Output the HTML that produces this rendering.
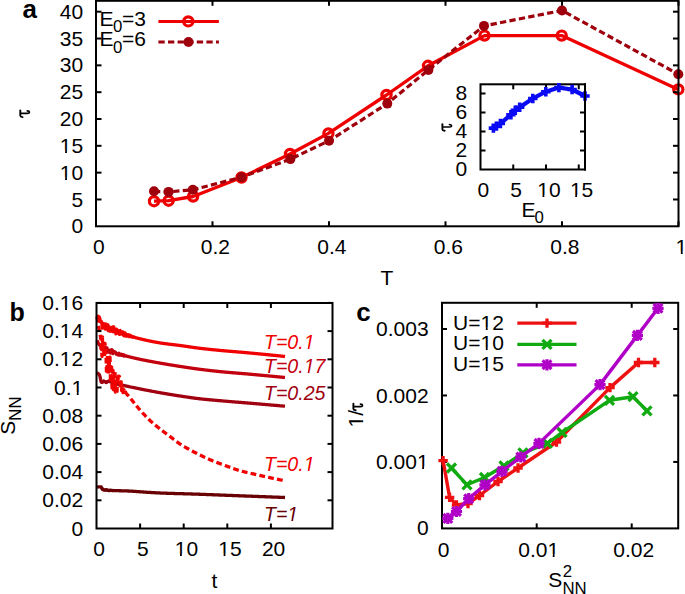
<!DOCTYPE html>
<html><head><meta charset="utf-8"><style>
html,body{margin:0;padding:0;background:#fff;}
svg{display:block;}
text{font-family:"Liberation Sans", sans-serif;}
</style></head><body>
<svg width="685" height="594" viewBox="0 0 685 594">
<rect width="685" height="594" fill="#fff"/>
<polyline points="154.00,201.20 168.60,200.70 193.10,196.50 241.50,177.50 290.00,154.00 328.40,133.40 386.50,95.00 428.00,65.80 484.50,35.60 561.70,35.60 678.30,89.40" fill="none" stroke="#ee0000" stroke-width="3.3" stroke-linejoin="round" />
<circle cx="154" cy="201.2" r="4.6" fill="none" stroke="#ee0000" stroke-width="3.2"/>
<circle cx="168.6" cy="200.7" r="4.6" fill="none" stroke="#ee0000" stroke-width="3.2"/>
<circle cx="193.1" cy="196.5" r="4.6" fill="none" stroke="#ee0000" stroke-width="3.2"/>
<circle cx="241.5" cy="177.5" r="4.6" fill="none" stroke="#ee0000" stroke-width="3.2"/>
<circle cx="290" cy="154" r="4.6" fill="none" stroke="#ee0000" stroke-width="3.2"/>
<circle cx="328.4" cy="133.4" r="4.6" fill="none" stroke="#ee0000" stroke-width="3.2"/>
<circle cx="386.5" cy="95" r="4.6" fill="none" stroke="#ee0000" stroke-width="3.2"/>
<circle cx="428" cy="65.8" r="4.6" fill="none" stroke="#ee0000" stroke-width="3.2"/>
<circle cx="484.5" cy="35.6" r="4.6" fill="none" stroke="#ee0000" stroke-width="3.2"/>
<circle cx="561.7" cy="35.6" r="4.6" fill="none" stroke="#ee0000" stroke-width="3.2"/>
<circle cx="678.3" cy="89.4" r="4.6" fill="none" stroke="#ee0000" stroke-width="3.2"/>
<polyline points="154.00,191.30 168.60,191.90 192.80,189.80 241.50,177.20 290.40,159.10 329.00,140.80 387.30,103.60 428.40,69.90 484.00,25.90 562.00,10.50 678.30,74.20" fill="none" stroke="#9e000c" stroke-width="3.2" stroke-linejoin="round" stroke-dasharray="6.3 3.3"/>
<circle cx="154" cy="191.3" r="5" fill="#9e000c"/>
<circle cx="168.6" cy="191.9" r="5" fill="#9e000c"/>
<circle cx="192.8" cy="189.8" r="5" fill="#9e000c"/>
<circle cx="241.5" cy="177.2" r="5" fill="#9e000c"/>
<circle cx="290.4" cy="159.1" r="5" fill="#9e000c"/>
<circle cx="329" cy="140.8" r="5" fill="#9e000c"/>
<circle cx="387.3" cy="103.6" r="5" fill="#9e000c"/>
<circle cx="428.4" cy="69.9" r="5" fill="#9e000c"/>
<circle cx="484" cy="25.9" r="5" fill="#9e000c"/>
<circle cx="562" cy="10.5" r="5" fill="#9e000c"/>
<circle cx="678.3" cy="74.2" r="5" fill="#9e000c"/>
<text x="99.4" y="25.6" font-size="21" text-anchor="start" fill="#000" >E</text>
<text x="113.0" y="32.1" font-size="16.8" text-anchor="start" fill="#000" >0</text>
<text x="122.0" y="25.6" font-size="21" text-anchor="start" fill="#000" >=3</text>
<text x="99.4" y="46.3" font-size="21" text-anchor="start" fill="#000" >E</text>
<text x="113.0" y="52.8" font-size="16.8" text-anchor="start" fill="#000" >0</text>
<text x="122.0" y="46.3" font-size="21" text-anchor="start" fill="#000" >=6</text>
<line x1="158.40" y1="21.40" x2="218.90" y2="21.40" stroke="#ee0000" stroke-width="3" />
<circle cx="188.3" cy="21.4" r="4.6" fill="none" stroke="#ee0000" stroke-width="3.2"/>
<line x1="158.40" y1="42.00" x2="218.90" y2="42.00" stroke="#9e000c" stroke-width="3" stroke-dasharray="6.3 3.3"/>
<circle cx="188.5" cy="42" r="5" fill="#9e000c"/>
<rect x="96.0" y="0.8" width="582.5" height="225.5" fill="none" stroke="#000" stroke-width="2.0"/>
<text x="83.2" y="233.3" font-size="21" text-anchor="end" fill="#000" >0</text>
<line x1="96.00" y1="199.48" x2="101.50" y2="199.48" stroke="#000" stroke-width="2" />
<line x1="678.50" y1="199.48" x2="673.00" y2="199.48" stroke="#000" stroke-width="2" />
<text x="83.2" y="206.5" font-size="21" text-anchor="end" fill="#000" >5</text>
<line x1="96.00" y1="172.65" x2="101.50" y2="172.65" stroke="#000" stroke-width="2" />
<line x1="678.50" y1="172.65" x2="673.00" y2="172.65" stroke="#000" stroke-width="2" />
<text id="o0" x="83.2" y="179.7" font-size="21" text-anchor="end" fill="#000" >10</text>
<g fill="#fff"><path d="M-40,-130L515,-130L515,230L-40,230ZM696,-130L1125,-130L1125,230L696,230Z" transform="translate(59.84,179.70) scale(0.010254,-0.010254)"/></g>
<line x1="96.00" y1="145.82" x2="101.50" y2="145.82" stroke="#000" stroke-width="2" />
<line x1="678.50" y1="145.82" x2="673.00" y2="145.82" stroke="#000" stroke-width="2" />
<text id="o1" x="83.2" y="152.8" font-size="21" text-anchor="end" fill="#000" >15</text>
<g fill="#fff"><path d="M-40,-130L515,-130L515,230L-40,230ZM696,-130L1125,-130L1125,230L696,230Z" transform="translate(59.84,152.80) scale(0.010254,-0.010254)"/></g>
<line x1="96.00" y1="119.00" x2="101.50" y2="119.00" stroke="#000" stroke-width="2" />
<line x1="678.50" y1="119.00" x2="673.00" y2="119.00" stroke="#000" stroke-width="2" />
<text x="83.2" y="126.0" font-size="21" text-anchor="end" fill="#000" >20</text>
<line x1="96.00" y1="92.18" x2="101.50" y2="92.18" stroke="#000" stroke-width="2" />
<line x1="678.50" y1="92.18" x2="673.00" y2="92.18" stroke="#000" stroke-width="2" />
<text x="83.2" y="99.2" font-size="21" text-anchor="end" fill="#000" >25</text>
<line x1="96.00" y1="65.35" x2="101.50" y2="65.35" stroke="#000" stroke-width="2" />
<line x1="678.50" y1="65.35" x2="673.00" y2="65.35" stroke="#000" stroke-width="2" />
<text x="83.2" y="72.3" font-size="21" text-anchor="end" fill="#000" >30</text>
<line x1="96.00" y1="38.53" x2="101.50" y2="38.53" stroke="#000" stroke-width="2" />
<line x1="678.50" y1="38.53" x2="673.00" y2="38.53" stroke="#000" stroke-width="2" />
<text x="83.2" y="45.5" font-size="21" text-anchor="end" fill="#000" >35</text>
<line x1="96.00" y1="11.70" x2="101.50" y2="11.70" stroke="#000" stroke-width="2" />
<line x1="678.50" y1="11.70" x2="673.00" y2="11.70" stroke="#000" stroke-width="2" />
<text x="83.2" y="18.7" font-size="21" text-anchor="end" fill="#000" >40</text>
<text x="98.9" y="253.8" font-size="21" text-anchor="middle" fill="#000" >0</text>
<line x1="212.50" y1="226.30" x2="212.50" y2="221.30" stroke="#000" stroke-width="2" />
<line x1="212.50" y1="0.80" x2="212.50" y2="5.80" stroke="#000" stroke-width="2" />
<text x="215.4" y="253.8" font-size="21" text-anchor="middle" fill="#000" >0.2</text>
<line x1="329.00" y1="226.30" x2="329.00" y2="221.30" stroke="#000" stroke-width="2" />
<line x1="329.00" y1="0.80" x2="329.00" y2="5.80" stroke="#000" stroke-width="2" />
<text x="331.9" y="253.8" font-size="21" text-anchor="middle" fill="#000" >0.4</text>
<line x1="445.50" y1="226.30" x2="445.50" y2="221.30" stroke="#000" stroke-width="2" />
<line x1="445.50" y1="0.80" x2="445.50" y2="5.80" stroke="#000" stroke-width="2" />
<text x="448.4" y="253.8" font-size="21" text-anchor="middle" fill="#000" >0.6</text>
<line x1="562.00" y1="226.30" x2="562.00" y2="221.30" stroke="#000" stroke-width="2" />
<line x1="562.00" y1="0.80" x2="562.00" y2="5.80" stroke="#000" stroke-width="2" />
<text x="564.9" y="253.8" font-size="21" text-anchor="middle" fill="#000" >0.8</text>
<line x1="678.50" y1="226.30" x2="678.50" y2="221.30" stroke="#000" stroke-width="2" />
<line x1="678.50" y1="0.80" x2="678.50" y2="5.80" stroke="#000" stroke-width="2" />
<text id="o2" x="681.4" y="253.8" font-size="21" text-anchor="middle" fill="#000" >1</text>
<g fill="#fff"><path d="M-40,-130L515,-130L515,230L-40,230ZM696,-130L1125,-130L1125,230L696,230Z" transform="translate(675.56,253.80) scale(0.010254,-0.010254)"/></g>
<text x="387.0" y="285.4" font-size="21" text-anchor="middle" fill="#000" >T</text>
<g transform="translate(20.3,113.4) scale(1.0)" fill="none" stroke="#000" stroke-linecap="round"><path d="M0,-2.9 L0,2.3 Q0.2,3.5 2.2,3.7" stroke-width="1.9"/><path d="M0.5,0 L7.2,0 Q9.2,0 9.1,-1.3 Q9.0,-2.5 7.0,-2.5" stroke-width="1.65"/></g>
<text x="22.6" y="18.3" font-size="26" text-anchor="start" fill="#000" font-weight="bold">a</text>
<rect x="480.5" y="84.3" width="104.5" height="85.2" fill="#fff" stroke="#000" stroke-width="2.0"/>
<text x="467.2" y="175.8" font-size="21" text-anchor="end" fill="#000" >0</text>
<line x1="480.50" y1="150.50" x2="485.50" y2="150.50" stroke="#000" stroke-width="2" />
<line x1="585.00" y1="150.50" x2="580.00" y2="150.50" stroke="#000" stroke-width="2" />
<text x="467.2" y="156.8" font-size="21" text-anchor="end" fill="#000" >2</text>
<line x1="480.50" y1="131.50" x2="485.50" y2="131.50" stroke="#000" stroke-width="2" />
<line x1="585.00" y1="131.50" x2="580.00" y2="131.50" stroke="#000" stroke-width="2" />
<text x="467.2" y="137.8" font-size="21" text-anchor="end" fill="#000" >4</text>
<line x1="480.50" y1="112.50" x2="485.50" y2="112.50" stroke="#000" stroke-width="2" />
<line x1="585.00" y1="112.50" x2="580.00" y2="112.50" stroke="#000" stroke-width="2" />
<text x="467.2" y="118.8" font-size="21" text-anchor="end" fill="#000" >6</text>
<line x1="480.50" y1="93.50" x2="485.50" y2="93.50" stroke="#000" stroke-width="2" />
<line x1="585.00" y1="93.50" x2="580.00" y2="93.50" stroke="#000" stroke-width="2" />
<text x="467.2" y="99.8" font-size="21" text-anchor="end" fill="#000" >8</text>
<text x="483.4" y="197.4" font-size="21" text-anchor="middle" fill="#000" >0</text>
<line x1="513.25" y1="169.50" x2="513.25" y2="164.50" stroke="#000" stroke-width="2" />
<line x1="513.25" y1="84.30" x2="513.25" y2="89.30" stroke="#000" stroke-width="2" />
<text x="516.1" y="197.4" font-size="21" text-anchor="middle" fill="#000" >5</text>
<line x1="546.00" y1="169.50" x2="546.00" y2="164.50" stroke="#000" stroke-width="2" />
<line x1="546.00" y1="84.30" x2="546.00" y2="89.30" stroke="#000" stroke-width="2" />
<text id="o3" x="548.9" y="197.4" font-size="21" text-anchor="middle" fill="#000" >10</text>
<g fill="#fff"><path d="M-40,-130L515,-130L515,230L-40,230ZM696,-130L1125,-130L1125,230L696,230Z" transform="translate(537.22,197.40) scale(0.010254,-0.010254)"/></g>
<line x1="578.75" y1="169.50" x2="578.75" y2="164.50" stroke="#000" stroke-width="2" />
<line x1="578.75" y1="84.30" x2="578.75" y2="89.30" stroke="#000" stroke-width="2" />
<text id="o4" x="581.6" y="197.4" font-size="21" text-anchor="middle" fill="#000" >15</text>
<g fill="#fff"><path d="M-40,-130L515,-130L515,230L-40,230ZM696,-130L1125,-130L1125,230L696,230Z" transform="translate(569.92,197.40) scale(0.010254,-0.010254)"/></g>
<polyline points="493.40,128.10 496.40,126.10 500.40,123.50 510.90,114.70 515.30,110.30 519.70,107.30 532.80,98.50 545.80,91.70 558.90,87.60 572.10,89.50 585.00,96.00" fill="none" stroke="#0a0af5" stroke-width="4.2" stroke-linejoin="round" />
<path d="M488.7,128.1h9.4M493.4,123.39999999999999v9.4" stroke="#0a0af5" stroke-width="3.6"/>
<path d="M491.7,126.1h9.4M496.4,121.39999999999999v9.4" stroke="#0a0af5" stroke-width="3.6"/>
<path d="M495.7,123.5h9.4M500.4,118.8v9.4" stroke="#0a0af5" stroke-width="3.6"/>
<path d="M506.2,114.7h9.4M510.9,110.0v9.4" stroke="#0a0af5" stroke-width="3.6"/>
<path d="M510.59999999999997,110.3h9.4M515.3,105.6v9.4" stroke="#0a0af5" stroke-width="3.6"/>
<path d="M515.0,107.3h9.4M519.7,102.6v9.4" stroke="#0a0af5" stroke-width="3.6"/>
<path d="M528.0999999999999,98.5h9.4M532.8,93.8v9.4" stroke="#0a0af5" stroke-width="3.6"/>
<path d="M541.0999999999999,91.7h9.4M545.8,87.0v9.4" stroke="#0a0af5" stroke-width="3.6"/>
<path d="M554.1999999999999,87.6h9.4M558.9,82.89999999999999v9.4" stroke="#0a0af5" stroke-width="3.6"/>
<path d="M567.4,89.5h9.4M572.1,84.8v9.4" stroke="#0a0af5" stroke-width="3.6"/>
<path d="M580.3,96h9.4M585,91.3v9.4" stroke="#0a0af5" stroke-width="3.6"/>
<line x1="585.00" y1="83.30" x2="585.00" y2="170.50" stroke="#000" stroke-width="2.0" />
<text x="521.4" y="216.9" font-size="21" text-anchor="start" fill="#000" >E</text>
<text x="534.6" y="222.8" font-size="16.8" text-anchor="start" fill="#000" >0</text>
<g transform="translate(442.4,127.0) scale(1.0)" fill="none" stroke="#000" stroke-linecap="round"><path d="M0,-2.9 L0,2.3 Q0.2,3.5 2.2,3.7" stroke-width="1.9"/><path d="M0.5,0 L7.2,0 Q9.2,0 9.1,-1.3 Q9.0,-2.5 7.0,-2.5" stroke-width="1.65"/></g>
<polyline points="97.00,487.30 97.70,487.08 98.40,486.94 99.10,486.85 99.80,486.81 100.50,486.80 101.20,486.93 101.90,488.58 102.60,489.61 103.30,489.24 104.00,490.14 104.70,489.83 105.40,490.22 106.10,489.60 106.80,490.07 107.50,490.35 108.20,490.06 108.90,490.57 109.60,490.56 110.30,490.17 111.00,490.24 111.70,490.49 112.40,490.62 113.10,490.52 113.80,490.54 114.50,490.59 115.20,490.62 115.90,490.65 116.60,490.67 117.30,490.69 118.00,490.70 118.70,490.72 119.40,490.74 120.10,490.76 120.80,490.77 121.50,490.79 122.20,490.81 122.90,490.82 123.60,490.84 124.30,490.86 125.00,490.88 125.70,490.91 126.40,490.93 127.10,490.96 127.80,490.99 128.50,491.02 129.20,491.06 129.90,491.09 130.60,491.14 131.30,491.18 132.00,491.22 132.70,491.26 133.40,491.31 134.10,491.36 134.80,491.40 135.50,491.45 136.20,491.50 136.90,491.54 137.60,491.59 138.30,491.64 139.00,491.69 139.70,491.74 140.40,491.79 141.10,491.84 141.80,491.89 142.50,491.93 143.20,491.98 143.90,492.03 144.60,492.08 145.30,492.13 146.00,492.18 146.70,492.23 147.40,492.28 148.10,492.32 148.80,492.37 149.50,492.42 150.20,492.46 150.90,492.51 151.60,492.55 152.30,492.59 153.00,492.64 153.70,492.68 154.40,492.72 155.10,492.76 155.80,492.80 156.50,492.83 157.20,492.87 157.90,492.90 158.60,492.94 159.30,492.97 160.00,493.00 160.70,493.03 161.40,493.06 162.10,493.09 162.80,493.11 163.50,493.14 164.20,493.17 164.90,493.19 165.60,493.22 166.30,493.24 167.00,493.27 167.70,493.29 168.40,493.31 169.10,493.34 169.80,493.36 170.50,493.38 171.20,493.40 171.90,493.42 172.60,493.44 173.30,493.47 174.00,493.49 174.70,493.51 175.40,493.53 176.10,493.55 176.80,493.57 177.50,493.59 178.20,493.61 178.90,493.62 179.60,493.64 180.30,493.66 181.00,493.68 181.70,493.70 182.40,493.72 183.10,493.74 183.80,493.76 184.50,493.78 185.20,493.80 185.90,493.82 186.60,493.84 187.30,493.86 188.00,493.88 188.70,493.90 189.40,493.92 190.10,493.94 190.80,493.96 191.50,493.99 192.20,494.01 192.90,494.03 193.60,494.05 194.30,494.08 195.00,494.10 195.70,494.12 196.40,494.15 197.10,494.17 197.80,494.20 198.50,494.22 199.20,494.25 199.90,494.27 200.60,494.30 201.30,494.32 202.00,494.35 202.70,494.37 203.40,494.40 204.10,494.42 204.80,494.45 205.50,494.47 206.20,494.50 206.90,494.53 207.60,494.55 208.30,494.58 209.00,494.60 209.70,494.63 210.40,494.66 211.10,494.68 211.80,494.71 212.50,494.74 213.20,494.76 213.90,494.79 214.60,494.82 215.30,494.84 216.00,494.87 216.70,494.90 217.40,494.93 218.10,494.95 218.80,494.98 219.50,495.01 220.20,495.03 220.90,495.06 221.60,495.09 222.30,495.12 223.00,495.14 223.70,495.17 224.40,495.20 225.10,495.23 225.80,495.25 226.50,495.28 227.20,495.31 227.90,495.33 228.60,495.36 229.30,495.39 230.00,495.42 230.70,495.44 231.40,495.47 232.10,495.50 232.80,495.52 233.50,495.55 234.20,495.58 234.90,495.61 235.60,495.63 236.30,495.66 237.00,495.69 237.70,495.71 238.40,495.74 239.10,495.77 239.80,495.79 240.50,495.82 241.20,495.85 241.90,495.87 242.60,495.90 243.30,495.92 244.00,495.95 244.70,495.98 245.40,496.00 246.10,496.03 246.80,496.06 247.50,496.08 248.20,496.11 248.90,496.14 249.60,496.16 250.30,496.19 251.00,496.22 251.70,496.24 252.40,496.27 253.10,496.29 253.80,496.32 254.50,496.35 255.20,496.37 255.90,496.40 256.60,496.43 257.30,496.45 258.00,496.48 258.70,496.51 259.40,496.53 260.10,496.56 260.80,496.59 261.50,496.61 262.20,496.64 262.90,496.67 263.60,496.69 264.30,496.72 265.00,496.74 265.70,496.77 266.40,496.80 267.10,496.82 267.80,496.85 268.50,496.88 269.20,496.90 269.90,496.93 270.60,496.96 271.30,496.98 272.00,497.01 272.70,497.04 273.40,497.06 274.10,497.09 274.80,497.11 275.50,497.14 276.20,497.17 276.90,497.19 277.60,497.22 278.30,497.25 279.00,497.27 279.70,497.30 280.40,497.33 281.10,497.35 281.80,497.38 282.50,497.41 283.20,497.43 283.90,497.46 284.60,497.48 285.00,497.50" fill="none" stroke="#680004" stroke-width="3.3" stroke-linejoin="round" />
<polyline points="97.00,373.00 97.60,373.14 98.20,373.54 98.80,374.13 99.40,374.87 100.00,376.55 100.60,379.61 101.20,382.10 101.80,382.46 102.40,382.20 103.00,381.85 103.60,380.89 104.20,381.36 104.80,381.29 105.40,381.97 106.00,382.53 106.60,382.47 107.20,381.69 107.80,381.53 108.40,381.21 109.00,380.79 109.60,380.82 110.20,381.75 110.80,381.55 111.40,381.77 112.00,382.79 112.60,382.30 113.20,382.52 113.80,382.21 114.40,382.12 115.00,382.76 115.60,382.74 116.20,383.42 116.80,384.16 117.40,384.00 118.00,383.72 118.60,384.54 119.20,384.62 119.80,384.71 120.40,384.95 121.00,384.98 121.60,385.12 122.20,385.08 122.80,385.41 123.40,385.51 124.00,385.50 124.60,385.70 125.20,385.82 125.80,385.96 126.40,386.09 127.00,386.22 127.60,386.35 128.20,386.48 128.80,386.61 129.40,386.74 130.00,386.86 130.60,386.99 131.20,387.11 131.80,387.24 132.40,387.36 133.00,387.48 133.60,387.61 134.20,387.73 134.80,387.85 135.40,387.97 136.00,388.09 136.60,388.22 137.20,388.34 137.80,388.46 138.40,388.58 139.00,388.70 139.60,388.82 140.20,388.94 140.80,389.06 141.40,389.18 142.00,389.30 142.60,389.42 143.20,389.54 143.80,389.66 144.40,389.78 145.00,389.90 145.60,390.01 146.20,390.13 146.80,390.25 147.40,390.36 148.00,390.48 148.60,390.59 149.20,390.71 149.80,390.82 150.40,390.94 151.00,391.05 151.60,391.17 152.20,391.28 152.80,391.39 153.40,391.50 154.00,391.61 154.60,391.72 155.20,391.84 155.80,391.95 156.40,392.05 157.00,392.16 157.60,392.27 158.20,392.38 158.80,392.49 159.40,392.59 160.00,392.70 160.60,392.81 161.20,392.91 161.80,393.02 162.40,393.12 163.00,393.23 163.60,393.33 164.20,393.43 164.80,393.54 165.40,393.64 166.00,393.74 166.60,393.84 167.20,393.94 167.80,394.05 168.40,394.15 169.00,394.25 169.60,394.35 170.20,394.45 170.80,394.54 171.40,394.64 172.00,394.74 172.60,394.84 173.20,394.94 173.80,395.03 174.40,395.13 175.00,395.22 175.60,395.32 176.20,395.41 176.80,395.51 177.40,395.60 178.00,395.69 178.60,395.79 179.20,395.88 179.80,395.97 180.40,396.06 181.00,396.15 181.60,396.24 182.20,396.33 182.80,396.42 183.40,396.52 184.00,396.61 184.60,396.70 185.20,396.79 185.80,396.88 186.40,396.97 187.00,397.06 187.60,397.15 188.20,397.23 188.80,397.32 189.40,397.41 190.00,397.50 190.60,397.58 191.20,397.67 191.80,397.75 192.40,397.83 193.00,397.92 193.60,398.00 194.20,398.08 194.80,398.16 195.40,398.24 196.00,398.32 196.60,398.39 197.20,398.47 197.80,398.54 198.40,398.61 199.00,398.68 199.60,398.75 200.20,398.82 200.80,398.89 201.40,398.96 202.00,399.02 202.60,399.08 203.20,399.15 203.80,399.21 204.40,399.27 205.00,399.33 205.60,399.39 206.20,399.45 206.80,399.51 207.40,399.57 208.00,399.62 208.60,399.68 209.20,399.74 209.80,399.79 210.40,399.85 211.00,399.90 211.60,399.96 212.20,400.01 212.80,400.06 213.40,400.12 214.00,400.17 214.60,400.22 215.20,400.28 215.80,400.33 216.40,400.38 217.00,400.43 217.60,400.49 218.20,400.54 218.80,400.59 219.40,400.65 220.00,400.70 220.60,400.75 221.20,400.81 221.80,400.86 222.40,400.91 223.00,400.96 223.60,401.02 224.20,401.07 224.80,401.12 225.40,401.17 226.00,401.22 226.60,401.27 227.20,401.32 227.80,401.37 228.40,401.42 229.00,401.47 229.60,401.52 230.20,401.57 230.80,401.62 231.40,401.67 232.00,401.72 232.60,401.77 233.20,401.82 233.80,401.87 234.40,401.92 235.00,401.97 235.60,402.02 236.20,402.07 236.80,402.11 237.40,402.16 238.00,402.21 238.60,402.26 239.20,402.31 239.80,402.36 240.40,402.41 241.00,402.46 241.60,402.50 242.20,402.55 242.80,402.60 243.40,402.65 244.00,402.70 244.60,402.75 245.20,402.80 245.80,402.85 246.40,402.90 247.00,402.95 247.60,403.00 248.20,403.05 248.80,403.10 249.40,403.15 250.00,403.20 250.60,403.25 251.20,403.30 251.80,403.35 252.40,403.40 253.00,403.45 253.60,403.50 254.20,403.56 254.80,403.61 255.40,403.66 256.00,403.71 256.60,403.76 257.20,403.81 257.80,403.86 258.40,403.91 259.00,403.96 259.60,404.01 260.20,404.07 260.80,404.12 261.40,404.17 262.00,404.22 262.60,404.27 263.20,404.32 263.80,404.37 264.40,404.42 265.00,404.47 265.60,404.53 266.20,404.58 266.80,404.63 267.40,404.68 268.00,404.73 268.60,404.78 269.20,404.83 269.80,404.89 270.40,404.94 271.00,404.99 271.60,405.04 272.20,405.09 272.80,405.14 273.40,405.20 274.00,405.25 274.60,405.30 275.20,405.35 275.80,405.40 276.40,405.45 277.00,405.51 277.60,405.56 278.20,405.61 278.80,405.66 279.40,405.71 280.00,405.77 280.60,405.82 281.20,405.87 281.80,405.92 282.40,405.97 283.00,406.03 283.60,406.08 284.20,406.13 284.80,406.18 285.00,406.20" fill="none" stroke="#a0000f" stroke-width="3.3" stroke-linejoin="round" />
<polyline points="97.00,340.50 97.40,341.29 97.80,342.05 98.20,342.77 98.60,343.45 99.00,344.09 99.40,344.67 99.80,345.20 100.20,344.66 100.60,345.06 101.00,348.89 101.40,347.03 101.80,349.06 102.20,347.84 102.60,348.86 103.00,346.96 103.40,349.30 103.80,350.51 104.20,349.16 104.60,350.28 105.00,350.12 105.40,347.58 105.80,350.76 106.20,350.14 106.60,348.97 107.00,347.89 107.40,351.67 107.80,350.04 108.20,351.23 108.60,352.04 109.00,351.43 109.40,352.46 109.80,350.27 110.20,352.19 110.60,350.76 111.00,353.06 111.40,352.91 111.80,349.74 112.20,350.08 112.60,350.59 113.00,353.67 113.40,351.77 113.80,352.62 114.20,351.59 114.60,352.47 115.00,352.21 115.40,352.25 115.80,353.15 116.20,353.28 116.60,354.36 117.00,353.83 117.40,354.63 117.80,354.53 118.20,354.97 118.60,354.27 119.00,353.20 119.40,354.92 119.80,355.22 120.20,355.18 120.60,354.61 121.00,354.99 121.40,354.22 121.80,355.37 122.20,355.06 122.60,354.76 123.00,354.61 123.40,355.71 123.80,355.93 124.20,355.10 124.60,355.88 125.00,355.65 125.40,355.59 125.80,355.81 126.20,356.16 126.60,356.28 127.00,356.13 127.40,356.36 127.80,356.42 128.20,356.55 128.60,356.65 129.00,356.75 129.40,356.85 129.80,356.95 130.20,357.05 130.60,357.15 131.00,357.25 131.40,357.34 131.80,357.44 132.20,357.54 132.60,357.63 133.00,357.73 133.40,357.82 133.80,357.92 134.20,358.01 134.60,358.11 135.00,358.20 135.40,358.29 135.80,358.38 136.20,358.47 136.60,358.56 137.00,358.65 137.40,358.74 137.80,358.83 138.20,358.91 138.60,359.00 139.00,359.09 139.40,359.17 139.80,359.26 140.20,359.34 140.60,359.43 141.00,359.51 141.40,359.59 141.80,359.67 142.20,359.76 142.60,359.84 143.00,359.92 143.40,360.00 143.80,360.08 144.20,360.16 144.60,360.24 145.00,360.32 145.40,360.40 145.80,360.48 146.20,360.56 146.60,360.63 147.00,360.71 147.40,360.79 147.80,360.87 148.20,360.94 148.60,361.02 149.00,361.10 149.40,361.17 149.80,361.25 150.20,361.32 150.60,361.40 151.00,361.47 151.40,361.55 151.80,361.62 152.20,361.69 152.60,361.77 153.00,361.84 153.40,361.92 153.80,361.99 154.20,362.06 154.60,362.13 155.00,362.21 155.40,362.28 155.80,362.35 156.20,362.42 156.60,362.50 157.00,362.57 157.40,362.64 157.80,362.71 158.20,362.78 158.60,362.85 159.00,362.92 159.40,362.99 159.80,363.06 160.20,363.14 160.60,363.21 161.00,363.28 161.40,363.35 161.80,363.42 162.20,363.49 162.60,363.55 163.00,363.62 163.40,363.69 163.80,363.76 164.20,363.83 164.60,363.90 165.00,363.97 165.40,364.04 165.80,364.10 166.20,364.17 166.60,364.24 167.00,364.31 167.40,364.37 167.80,364.44 168.20,364.51 168.60,364.57 169.00,364.64 169.40,364.71 169.80,364.77 170.20,364.84 170.60,364.90 171.00,364.97 171.40,365.04 171.80,365.10 172.20,365.17 172.60,365.23 173.00,365.29 173.40,365.36 173.80,365.42 174.20,365.49 174.60,365.55 175.00,365.62 175.40,365.68 175.80,365.74 176.20,365.81 176.60,365.87 177.00,365.93 177.40,366.00 177.80,366.06 178.20,366.12 178.60,366.18 179.00,366.25 179.40,366.31 179.80,366.37 180.20,366.43 180.60,366.49 181.00,366.55 181.40,366.62 181.80,366.68 182.20,366.74 182.60,366.80 183.00,366.86 183.40,366.92 183.80,366.98 184.20,367.05 184.60,367.11 185.00,367.17 185.40,367.23 185.80,367.29 186.20,367.35 186.60,367.41 187.00,367.47 187.40,367.53 187.80,367.59 188.20,367.65 188.60,367.71 189.00,367.77 189.40,367.83 189.80,367.89 190.20,367.94 190.60,368.00 191.00,368.06 191.40,368.12 191.80,368.18 192.20,368.23 192.60,368.29 193.00,368.35 193.40,368.41 193.80,368.46 194.20,368.52 194.60,368.58 195.00,368.63 195.40,368.69 195.80,368.74 196.20,368.80 196.60,368.85 197.00,368.90 197.40,368.96 197.80,369.01 198.20,369.07 198.60,369.12 199.00,369.17 199.40,369.22 199.80,369.27 200.20,369.33 200.60,369.38 201.00,369.43 201.40,369.48 201.80,369.53 202.20,369.58 202.60,369.63 203.00,369.68 203.40,369.73 203.80,369.78 204.20,369.83 204.60,369.88 205.00,369.93 205.40,369.98 205.80,370.02 206.20,370.07 206.60,370.12 207.00,370.17 207.40,370.22 207.80,370.26 208.20,370.31 208.60,370.36 209.00,370.41 209.40,370.45 209.80,370.50 210.20,370.54 210.60,370.59 211.00,370.64 211.40,370.68 211.80,370.73 212.20,370.77 212.60,370.82 213.00,370.86 213.40,370.91 213.80,370.95 214.20,370.99 214.60,371.04 215.00,371.08 215.40,371.12 215.80,371.17 216.20,371.21 216.60,371.25 217.00,371.29 217.40,371.33 217.80,371.38 218.20,371.42 218.60,371.46 219.00,371.50 219.40,371.54 219.80,371.58 220.20,371.62 220.60,371.66 221.00,371.70 221.40,371.74 221.80,371.78 222.20,371.81 222.60,371.85 223.00,371.89 223.40,371.93 223.80,371.97 224.20,372.00 224.60,372.04 225.00,372.08 225.40,372.11 225.80,372.15 226.20,372.18 226.60,372.22 227.00,372.26 227.40,372.29 227.80,372.33 228.20,372.36 228.60,372.40 229.00,372.43 229.40,372.47 229.80,372.50 230.20,372.53 230.60,372.57 231.00,372.60 231.40,372.64 231.80,372.67 232.20,372.70 232.60,372.74 233.00,372.77 233.40,372.80 233.80,372.84 234.20,372.87 234.60,372.90 235.00,372.94 235.40,372.97 235.80,373.00 236.20,373.03 236.60,373.07 237.00,373.10 237.40,373.13 237.80,373.17 238.20,373.20 238.60,373.23 239.00,373.26 239.40,373.30 239.80,373.33 240.20,373.36 240.60,373.40 241.00,373.43 241.40,373.46 241.80,373.50 242.20,373.53 242.60,373.56 243.00,373.60 243.40,373.63 243.80,373.66 244.20,373.70 244.60,373.73 245.00,373.76 245.40,373.80 245.80,373.83 246.20,373.87 246.60,373.90 247.00,373.93 247.40,373.97 247.80,374.00 248.20,374.04 248.60,374.07 249.00,374.11 249.40,374.15 249.80,374.18 250.20,374.22 250.60,374.25 251.00,374.29 251.40,374.33 251.80,374.36 252.20,374.40 252.60,374.44 253.00,374.47 253.40,374.51 253.80,374.54 254.20,374.58 254.60,374.62 255.00,374.65 255.40,374.69 255.80,374.73 256.20,374.76 256.60,374.80 257.00,374.84 257.40,374.87 257.80,374.91 258.20,374.95 258.60,374.98 259.00,375.02 259.40,375.06 259.80,375.10 260.20,375.13 260.60,375.17 261.00,375.21 261.40,375.24 261.80,375.28 262.20,375.32 262.60,375.36 263.00,375.39 263.40,375.43 263.80,375.47 264.20,375.50 264.60,375.54 265.00,375.58 265.40,375.62 265.80,375.65 266.20,375.69 266.60,375.73 267.00,375.77 267.40,375.80 267.80,375.84 268.20,375.88 268.60,375.92 269.00,375.96 269.40,375.99 269.80,376.03 270.20,376.07 270.60,376.11 271.00,376.15 271.40,376.18 271.80,376.22 272.20,376.26 272.60,376.30 273.00,376.34 273.40,376.37 273.80,376.41 274.20,376.45 274.60,376.49 275.00,376.53 275.40,376.57 275.80,376.60 276.20,376.64 276.60,376.68 277.00,376.72 277.40,376.76 277.80,376.80 278.20,376.84 278.60,376.88 279.00,376.91 279.40,376.95 279.80,376.99 280.20,377.03 280.60,377.07 281.00,377.11 281.40,377.15 281.80,377.19 282.20,377.23 282.60,377.26 283.00,377.30 283.40,377.34 283.80,377.38 284.20,377.42 284.60,377.46 285.00,377.50" fill="none" stroke="#c2000e" stroke-width="3.3" stroke-linejoin="round" />
<polyline points="97.00,318.00 97.35,317.07 97.70,316.41 98.05,316.20 98.40,316.31 98.75,316.56 99.10,316.94 99.45,317.42 99.80,318.52 100.15,320.43 100.50,322.00 100.85,321.43 101.20,321.56 101.55,321.77 101.90,322.97 102.25,328.09 102.60,327.62 102.95,327.64 103.30,327.74 103.65,323.74 104.00,324.65 104.35,326.92 104.70,327.76 105.05,328.73 105.40,329.06 105.75,323.82 106.10,327.51 106.45,328.11 106.80,327.14 107.15,325.06 107.50,327.23 107.85,324.77 108.20,330.68 108.55,330.36 108.90,328.35 109.25,326.82 109.60,331.11 109.95,328.97 110.30,331.22 110.65,331.14 111.00,328.97 111.35,328.47 111.70,329.86 112.05,328.86 112.40,327.16 112.75,328.28 113.10,331.87 113.45,326.77 113.80,326.93 114.15,331.01 114.50,328.84 114.85,330.66 115.20,330.40 115.55,329.74 115.90,333.95 116.25,329.18 116.60,330.66 116.95,329.59 117.30,332.24 117.65,330.38 118.00,330.99 118.35,333.26 118.70,331.13 119.05,332.53 119.40,334.41 119.75,330.53 120.10,330.52 120.45,331.49 120.80,334.12 121.15,333.55 121.50,332.01 121.85,332.57 122.20,332.08 122.55,333.37 122.90,331.87 123.25,334.54 123.60,335.37 123.95,335.66 124.30,334.97 124.65,335.81 125.00,332.83 125.35,333.85 125.70,336.03 126.05,335.54 126.40,334.61 126.75,336.16 127.10,335.39 127.45,335.98 127.80,334.83 128.15,334.74 128.50,335.42 128.85,334.92 129.20,335.53 129.55,336.68 129.90,335.69 130.25,335.32 130.60,335.54 130.95,335.86 131.30,336.74 131.65,336.35 132.00,336.40 132.35,336.37 132.70,337.17 133.05,336.87 133.40,336.87 133.75,336.95 134.10,337.10 134.45,337.27 134.80,337.44 135.15,337.53 135.50,337.62 135.85,337.72 136.20,337.82 136.55,337.91 136.90,338.01 137.25,338.10 137.60,338.19 137.95,338.29 138.30,338.38 138.65,338.47 139.00,338.55 139.35,338.64 139.70,338.73 140.05,338.81 140.40,338.90 140.75,338.98 141.10,339.06 141.45,339.15 141.80,339.23 142.15,339.31 142.50,339.39 142.85,339.48 143.20,339.56 143.55,339.64 143.90,339.72 144.25,339.80 144.60,339.88 144.95,339.96 145.30,340.04 145.65,340.12 146.00,340.19 146.35,340.27 146.70,340.35 147.05,340.43 147.40,340.50 147.75,340.58 148.10,340.65 148.45,340.73 148.80,340.80 149.15,340.88 149.50,340.95 149.85,341.02 150.20,341.10 150.55,341.17 150.90,341.24 151.25,341.31 151.60,341.38 151.95,341.45 152.30,341.52 152.65,341.59 153.00,341.66 153.35,341.73 153.70,341.79 154.05,341.86 154.40,341.93 154.75,341.99 155.10,342.06 155.45,342.12 155.80,342.18 156.15,342.25 156.50,342.31 156.85,342.37 157.20,342.43 157.55,342.49 157.90,342.55 158.25,342.61 158.60,342.67 158.95,342.73 159.30,342.79 159.65,342.84 160.00,342.90 160.35,342.96 160.70,343.01 161.05,343.06 161.40,343.12 161.75,343.17 162.10,343.22 162.45,343.27 162.80,343.32 163.15,343.37 163.50,343.42 163.85,343.47 164.20,343.52 164.55,343.57 164.90,343.61 165.25,343.66 165.60,343.71 165.95,343.75 166.30,343.80 166.65,343.84 167.00,343.89 167.35,343.93 167.70,343.98 168.05,344.02 168.40,344.06 168.75,344.11 169.10,344.15 169.45,344.19 169.80,344.24 170.15,344.28 170.50,344.32 170.85,344.36 171.20,344.41 171.55,344.45 171.90,344.49 172.25,344.53 172.60,344.57 172.95,344.62 173.30,344.66 173.65,344.70 174.00,344.74 174.35,344.78 174.70,344.83 175.05,344.87 175.40,344.91 175.75,344.96 176.10,345.00 176.45,345.04 176.80,345.09 177.15,345.13 177.50,345.17 177.85,345.22 178.20,345.26 178.55,345.31 178.90,345.35 179.25,345.40 179.60,345.45 179.95,345.49 180.30,345.54 180.65,345.59 181.00,345.64 181.35,345.68 181.70,345.73 182.05,345.78 182.40,345.83 182.75,345.88 183.10,345.93 183.45,345.98 183.80,346.03 184.15,346.08 184.50,346.13 184.85,346.18 185.20,346.23 185.55,346.28 185.90,346.34 186.25,346.39 186.60,346.44 186.95,346.49 187.30,346.54 187.65,346.59 188.00,346.64 188.35,346.69 188.70,346.75 189.05,346.80 189.40,346.85 189.75,346.90 190.10,346.95 190.45,347.00 190.80,347.05 191.15,347.10 191.50,347.16 191.85,347.21 192.20,347.26 192.55,347.31 192.90,347.36 193.25,347.41 193.60,347.46 193.95,347.51 194.30,347.55 194.65,347.60 195.00,347.65 195.35,347.70 195.70,347.75 196.05,347.79 196.40,347.84 196.75,347.89 197.10,347.93 197.45,347.98 197.80,348.03 198.15,348.07 198.50,348.12 198.85,348.16 199.20,348.20 199.55,348.25 199.90,348.29 200.25,348.33 200.60,348.37 200.95,348.41 201.30,348.45 201.65,348.50 202.00,348.54 202.35,348.58 202.70,348.62 203.05,348.66 203.40,348.70 203.75,348.74 204.10,348.78 204.45,348.81 204.80,348.85 205.15,348.89 205.50,348.93 205.85,348.97 206.20,349.01 206.55,349.05 206.90,349.08 207.25,349.12 207.60,349.16 207.95,349.20 208.30,349.23 208.65,349.27 209.00,349.31 209.35,349.34 209.70,349.38 210.05,349.42 210.40,349.45 210.75,349.49 211.10,349.52 211.45,349.56 211.80,349.60 212.15,349.63 212.50,349.67 212.85,349.70 213.20,349.74 213.55,349.77 213.90,349.81 214.25,349.84 214.60,349.88 214.95,349.91 215.30,349.95 215.65,349.98 216.00,350.01 216.35,350.05 216.70,350.08 217.05,350.12 217.40,350.15 217.75,350.18 218.10,350.22 218.45,350.25 218.80,350.29 219.15,350.32 219.50,350.35 219.85,350.39 220.20,350.42 220.55,350.45 220.90,350.49 221.25,350.52 221.60,350.55 221.95,350.58 222.30,350.62 222.65,350.65 223.00,350.68 223.35,350.71 223.70,350.74 224.05,350.78 224.40,350.81 224.75,350.84 225.10,350.87 225.45,350.90 225.80,350.93 226.15,350.96 226.50,350.99 226.85,351.02 227.20,351.05 227.55,351.08 227.90,351.11 228.25,351.14 228.60,351.17 228.95,351.20 229.30,351.23 229.65,351.26 230.00,351.29 230.35,351.32 230.70,351.35 231.05,351.38 231.40,351.41 231.75,351.44 232.10,351.47 232.45,351.50 232.80,351.53 233.15,351.56 233.50,351.59 233.85,351.62 234.20,351.64 234.55,351.67 234.90,351.70 235.25,351.73 235.60,351.76 235.95,351.79 236.30,351.82 236.65,351.85 237.00,351.88 237.35,351.91 237.70,351.93 238.05,351.96 238.40,351.99 238.75,352.02 239.10,352.05 239.45,352.08 239.80,352.11 240.15,352.14 240.50,352.17 240.85,352.20 241.20,352.23 241.55,352.26 241.90,352.29 242.25,352.32 242.60,352.35 242.95,352.38 243.30,352.41 243.65,352.44 244.00,352.47 244.35,352.50 244.70,352.53 245.05,352.56 245.40,352.59 245.75,352.62 246.10,352.65 246.45,352.68 246.80,352.71 247.15,352.74 247.50,352.77 247.85,352.80 248.20,352.84 248.55,352.87 248.90,352.90 249.25,352.93 249.60,352.96 249.95,353.00 250.30,353.03 250.65,353.06 251.00,353.09 251.35,353.13 251.70,353.16 252.05,353.19 252.40,353.22 252.75,353.26 253.10,353.29 253.45,353.32 253.80,353.36 254.15,353.39 254.50,353.42 254.85,353.45 255.20,353.49 255.55,353.52 255.90,353.55 256.25,353.59 256.60,353.62 256.95,353.65 257.30,353.69 257.65,353.72 258.00,353.76 258.35,353.79 258.70,353.82 259.05,353.86 259.40,353.89 259.75,353.92 260.10,353.96 260.45,353.99 260.80,354.03 261.15,354.06 261.50,354.09 261.85,354.13 262.20,354.16 262.55,354.20 262.90,354.23 263.25,354.27 263.60,354.30 263.95,354.33 264.30,354.37 264.65,354.40 265.00,354.44 265.35,354.47 265.70,354.51 266.05,354.54 266.40,354.58 266.75,354.61 267.10,354.65 267.45,354.68 267.80,354.72 268.15,354.75 268.50,354.79 268.85,354.82 269.20,354.86 269.55,354.89 269.90,354.93 270.25,354.96 270.60,355.00 270.95,355.03 271.30,355.07 271.65,355.11 272.00,355.14 272.35,355.18 272.70,355.21 273.05,355.25 273.40,355.28 273.75,355.32 274.10,355.36 274.45,355.39 274.80,355.43 275.15,355.46 275.50,355.50 275.85,355.54 276.20,355.57 276.55,355.61 276.90,355.65 277.25,355.68 277.60,355.72 277.95,355.75 278.30,355.79 278.65,355.83 279.00,355.86 279.35,355.90 279.70,355.94 280.05,355.97 280.40,356.01 280.75,356.05 281.10,356.09 281.45,356.12 281.80,356.16 282.15,356.20 282.50,356.23 282.85,356.27 283.20,356.31 283.55,356.35 283.90,356.38 284.25,356.42 284.60,356.46 284.95,356.49 285.00,356.50" fill="none" stroke="#f00000" stroke-width="3.3" stroke-linejoin="round" />
<polyline points="97.00,317.00 97.50,319.90 98.00,322.78 98.50,325.63 99.00,328.45 99.50,331.24 100.00,334.00 100.50,336.81 101.00,339.68 101.50,346.69 102.00,356.47 102.50,336.94 103.00,349.13 103.50,344.86 104.00,354.97 104.50,357.47 105.00,343.34 105.50,350.56 106.00,353.83 106.50,373.18 107.00,370.48 107.50,355.01 108.00,374.31 108.50,357.27 109.00,371.99 109.50,359.46 110.00,357.05 110.50,382.38 111.00,364.77 111.50,365.79 112.00,388.08 112.50,385.77 113.00,370.19 113.50,389.74 114.00,378.64 114.50,383.24 115.00,370.73 115.50,392.09 116.00,385.81 116.50,394.27 117.00,392.94 117.50,377.30 118.00,379.87 118.50,376.21 119.00,376.97 119.50,376.55 120.00,382.29 120.50,388.40 121.00,379.54 121.50,390.38 122.00,386.48 122.50,387.03 123.00,392.67 123.50,390.13 124.00,389.72 124.50,391.35 125.00,392.65 125.50,391.90 126.00,393.16 126.50,393.73 127.00,394.30 127.50,394.88 128.00,395.45 128.50,396.03 129.00,396.61 129.50,397.20 130.00,397.80 130.50,398.40 131.00,399.01 131.50,399.63 132.00,400.24 132.50,400.86 133.00,401.49 133.50,402.11 134.00,402.74 134.50,403.36 135.00,403.99 135.50,404.61 136.00,405.23 136.50,405.85 137.00,406.46 137.50,407.07 138.00,407.67 138.50,408.27 139.00,408.85 139.50,409.43 140.00,410.00 140.50,410.56 141.00,411.12 141.50,411.68 142.00,412.24 142.50,412.79 143.00,413.34 143.50,413.88 144.00,414.43 144.50,414.96 145.00,415.49 145.50,416.02 146.00,416.54 146.50,417.06 147.00,417.57 147.50,418.08 148.00,418.57 148.50,419.07 149.00,419.55 149.50,420.03 150.00,420.50 150.50,420.96 151.00,421.42 151.50,421.87 152.00,422.31 152.50,422.75 153.00,423.18 153.50,423.61 154.00,424.03 154.50,424.45 155.00,424.87 155.50,425.28 156.00,425.69 156.50,426.10 157.00,426.50 157.50,426.90 158.00,427.30 158.50,427.70 159.00,428.10 159.50,428.50 160.00,428.90 160.50,429.30 161.00,429.69 161.50,430.08 162.00,430.47 162.50,430.86 163.00,431.24 163.50,431.62 164.00,432.00 164.50,432.38 165.00,432.75 165.50,433.13 166.00,433.50 166.50,433.88 167.00,434.25 167.50,434.62 168.00,435.00 168.50,435.37 169.00,435.75 169.50,436.12 170.00,436.50 170.50,436.88 171.00,437.26 171.50,437.65 172.00,438.04 172.50,438.42 173.00,438.81 173.50,439.20 174.00,439.59 174.50,439.98 175.00,440.37 175.50,440.75 176.00,441.13 176.50,441.51 177.00,441.88 177.50,442.25 178.00,442.62 178.50,442.97 179.00,443.32 179.50,443.67 180.00,444.00 180.50,444.33 181.00,444.65 181.50,444.97 182.00,445.28 182.50,445.59 183.00,445.90 183.50,446.20 184.00,446.50 184.50,446.80 185.00,447.09 185.50,447.38 186.00,447.67 186.50,447.95 187.00,448.24 187.50,448.52 188.00,448.80 188.50,449.07 189.00,449.35 189.50,449.63 190.00,449.90 190.50,450.17 191.00,450.44 191.50,450.71 192.00,450.97 192.50,451.24 193.00,451.50 193.50,451.76 194.00,452.01 194.50,452.27 195.00,452.52 195.50,452.77 196.00,453.03 196.50,453.28 197.00,453.52 197.50,453.77 198.00,454.02 198.50,454.26 199.00,454.51 199.50,454.76 200.00,455.00 200.50,455.24 201.00,455.49 201.50,455.73 202.00,455.98 202.50,456.22 203.00,456.47 203.50,456.71 204.00,456.95 204.50,457.19 205.00,457.43 205.50,457.66 206.00,457.90 206.50,458.13 207.00,458.37 207.50,458.59 208.00,458.82 208.50,459.05 209.00,459.27 209.50,459.48 210.00,459.70 210.50,459.91 211.00,460.12 211.50,460.33 212.00,460.54 212.50,460.74 213.00,460.95 213.50,461.15 214.00,461.35 214.50,461.55 215.00,461.75 215.50,461.94 216.00,462.14 216.50,462.33 217.00,462.52 217.50,462.72 218.00,462.91 218.50,463.10 219.00,463.28 219.50,463.47 220.00,463.66 220.50,463.84 221.00,464.03 221.50,464.22 222.00,464.40 222.50,464.58 223.00,464.77 223.50,464.95 224.00,465.13 224.50,465.32 225.00,465.50 225.50,465.68 226.00,465.87 226.50,466.05 227.00,466.24 227.50,466.42 228.00,466.61 228.50,466.79 229.00,466.98 229.50,467.16 230.00,467.35 230.50,467.53 231.00,467.71 231.50,467.89 232.00,468.07 232.50,468.25 233.00,468.43 233.50,468.61 234.00,468.78 234.50,468.96 235.00,469.13 235.50,469.30 236.00,469.46 236.50,469.63 237.00,469.79 237.50,469.95 238.00,470.11 238.50,470.26 239.00,470.41 239.50,470.56 240.00,470.70 240.50,470.84 241.00,470.98 241.50,471.11 242.00,471.25 242.50,471.38 243.00,471.51 243.50,471.63 244.00,471.76 244.50,471.88 245.00,472.00 245.50,472.13 246.00,472.24 246.50,472.36 247.00,472.48 247.50,472.59 248.00,472.71 248.50,472.82 249.00,472.94 249.50,473.05 250.00,473.16 250.50,473.28 251.00,473.39 251.50,473.50 252.00,473.61 252.50,473.73 253.00,473.84 253.50,473.95 254.00,474.07 254.50,474.18 255.00,474.30 255.50,474.42 256.00,474.53 256.50,474.65 257.00,474.77 257.50,474.88 258.00,475.00 258.50,475.11 259.00,475.23 259.50,475.34 260.00,475.46 260.50,475.57 261.00,475.69 261.50,475.80 262.00,475.92 262.50,476.03 263.00,476.15 263.50,476.26 264.00,476.37 264.50,476.48 265.00,476.60 265.50,476.71 266.00,476.82 266.50,476.93 267.00,477.04 267.50,477.15 268.00,477.26 268.50,477.37 269.00,477.48 269.50,477.59 270.00,477.70 270.50,477.81 271.00,477.92 271.50,478.02 272.00,478.13 272.50,478.24 273.00,478.34 273.50,478.45 274.00,478.56 274.50,478.66 275.00,478.77 275.50,478.87 276.00,478.98 276.50,479.08 277.00,479.18 277.50,479.29 278.00,479.39 278.50,479.49 279.00,479.60 279.50,479.70 280.00,479.80 280.50,479.90 281.00,480.00 281.50,480.10 282.00,480.20 282.50,480.30 283.00,480.40 283.50,480.50 284.00,480.60 284.50,480.70 285.00,480.80 285.00,480.80" fill="none" stroke="#f00000" stroke-width="3.3" stroke-linejoin="round" stroke-dasharray="5.8 3.2"/>
<rect x="96.5" y="303.0" width="236.0" height="225.5" fill="none" stroke="#000" stroke-width="2.0"/>
<text x="83.2" y="535.5" font-size="21" text-anchor="end" fill="#000" >0</text>
<line x1="96.50" y1="500.30" x2="101.50" y2="500.30" stroke="#000" stroke-width="2" />
<line x1="332.50" y1="500.30" x2="327.50" y2="500.30" stroke="#000" stroke-width="2" />
<text x="83.2" y="507.3" font-size="21" text-anchor="end" fill="#000" >0.02</text>
<line x1="96.50" y1="472.10" x2="101.50" y2="472.10" stroke="#000" stroke-width="2" />
<line x1="332.50" y1="472.10" x2="327.50" y2="472.10" stroke="#000" stroke-width="2" />
<text x="83.2" y="479.1" font-size="21" text-anchor="end" fill="#000" >0.04</text>
<line x1="96.50" y1="443.90" x2="101.50" y2="443.90" stroke="#000" stroke-width="2" />
<line x1="332.50" y1="443.90" x2="327.50" y2="443.90" stroke="#000" stroke-width="2" />
<text x="83.2" y="450.9" font-size="21" text-anchor="end" fill="#000" >0.06</text>
<line x1="96.50" y1="415.70" x2="101.50" y2="415.70" stroke="#000" stroke-width="2" />
<line x1="332.50" y1="415.70" x2="327.50" y2="415.70" stroke="#000" stroke-width="2" />
<text x="83.2" y="422.7" font-size="21" text-anchor="end" fill="#000" >0.08</text>
<line x1="96.50" y1="387.50" x2="101.50" y2="387.50" stroke="#000" stroke-width="2" />
<line x1="332.50" y1="387.50" x2="327.50" y2="387.50" stroke="#000" stroke-width="2" />
<text id="o5" x="83.2" y="394.5" font-size="21" text-anchor="end" fill="#000" >0.1</text>
<g fill="#fff"><path d="M-40,-130L515,-130L515,230L-40,230ZM696,-130L1125,-130L1125,230L696,230Z" transform="translate(71.50,394.50) scale(0.010254,-0.010254)"/></g>
<line x1="96.50" y1="359.30" x2="101.50" y2="359.30" stroke="#000" stroke-width="2" />
<line x1="332.50" y1="359.30" x2="327.50" y2="359.30" stroke="#000" stroke-width="2" />
<text id="o6" x="83.2" y="366.3" font-size="21" text-anchor="end" fill="#000" >0.12</text>
<g fill="#fff"><path d="M-40,-130L515,-130L515,230L-40,230ZM696,-130L1125,-130L1125,230L696,230Z" transform="translate(59.82,366.30) scale(0.010254,-0.010254)"/></g>
<line x1="96.50" y1="331.10" x2="101.50" y2="331.10" stroke="#000" stroke-width="2" />
<line x1="332.50" y1="331.10" x2="327.50" y2="331.10" stroke="#000" stroke-width="2" />
<text id="o7" x="83.2" y="338.1" font-size="21" text-anchor="end" fill="#000" >0.14</text>
<g fill="#fff"><path d="M-40,-130L515,-130L515,230L-40,230ZM696,-130L1125,-130L1125,230L696,230Z" transform="translate(59.82,338.10) scale(0.010254,-0.010254)"/></g>
<line x1="96.50" y1="302.90" x2="101.50" y2="302.90" stroke="#000" stroke-width="2" />
<line x1="332.50" y1="302.90" x2="327.50" y2="302.90" stroke="#000" stroke-width="2" />
<text id="o8" x="83.2" y="309.9" font-size="21" text-anchor="end" fill="#000" >0.16</text>
<g fill="#fff"><path d="M-40,-130L515,-130L515,230L-40,230ZM696,-130L1125,-130L1125,230L696,230Z" transform="translate(59.82,309.90) scale(0.010254,-0.010254)"/></g>
<text x="99.2" y="556.2" font-size="21" text-anchor="middle" fill="#000" >0</text>
<line x1="140.10" y1="528.50" x2="140.10" y2="523.50" stroke="#000" stroke-width="2" />
<line x1="140.10" y1="303.00" x2="140.10" y2="308.00" stroke="#000" stroke-width="2" />
<text x="142.8" y="556.2" font-size="21" text-anchor="middle" fill="#000" >5</text>
<line x1="183.70" y1="528.50" x2="183.70" y2="523.50" stroke="#000" stroke-width="2" />
<line x1="183.70" y1="303.00" x2="183.70" y2="308.00" stroke="#000" stroke-width="2" />
<text id="o9" x="186.4" y="556.2" font-size="21" text-anchor="middle" fill="#000" >10</text>
<g fill="#fff"><path d="M-40,-130L515,-130L515,230L-40,230ZM696,-130L1125,-130L1125,230L696,230Z" transform="translate(174.72,556.20) scale(0.010254,-0.010254)"/></g>
<line x1="227.30" y1="528.50" x2="227.30" y2="523.50" stroke="#000" stroke-width="2" />
<line x1="227.30" y1="303.00" x2="227.30" y2="308.00" stroke="#000" stroke-width="2" />
<text id="o10" x="230.0" y="556.2" font-size="21" text-anchor="middle" fill="#000" >15</text>
<g fill="#fff"><path d="M-40,-130L515,-130L515,230L-40,230ZM696,-130L1125,-130L1125,230L696,230Z" transform="translate(218.32,556.20) scale(0.010254,-0.010254)"/></g>
<line x1="270.90" y1="528.50" x2="270.90" y2="523.50" stroke="#000" stroke-width="2" />
<line x1="270.90" y1="303.00" x2="270.90" y2="308.00" stroke="#000" stroke-width="2" />
<text x="273.6" y="556.2" font-size="21" text-anchor="middle" fill="#000" >20</text>
<text x="214.5" y="587.6" font-size="21" text-anchor="middle" fill="#000" >t</text>
<text id="o11" transform="translate(263.9,349) scale(0.935,1)" font-size="21" font-style="italic" fill="#f00000">T=0.1</text>
<g fill="#fff" transform="translate(263.9,349) scale(0.935,1)"><path d="M-60,-130L387,-130L457,230L20,230ZM568,-130L1040,-130L1080,230L638,230Z" transform="translate(42.56,0.00) scale(0.010254,-0.010254)"/></g>
<text id="o12" transform="translate(263.9,372.8) scale(0.935,1)" font-size="21" font-style="italic" fill="#c2000e">T=0.17</text>
<g fill="#fff" transform="translate(263.9,372.8) scale(0.935,1)"><path d="M-60,-130L387,-130L457,230L20,230ZM568,-130L1040,-130L1080,230L638,230Z" transform="translate(42.56,0.00) scale(0.010254,-0.010254)"/></g>
<text transform="translate(263.9,399.5) scale(0.935,1)" font-size="21" font-style="italic" fill="#a0000f">T=0.25</text>
<text id="o13" transform="translate(263.9,471.2) scale(0.935,1)" font-size="21" font-style="italic" fill="#f00000">T=0.1</text>
<g fill="#fff" transform="translate(263.9,471.2) scale(0.935,1)"><path d="M-60,-130L387,-130L457,230L20,230ZM568,-130L1040,-130L1080,230L638,230Z" transform="translate(42.56,0.00) scale(0.010254,-0.010254)"/></g>
<text id="o14" transform="translate(263.9,521) scale(0.935,1)" font-size="21" font-style="italic" fill="#680004">T=1</text>
<g fill="#fff" transform="translate(263.9,521) scale(0.935,1)"><path d="M-60,-130L387,-130L457,230L20,230ZM568,-130L1040,-130L1080,230L638,230Z" transform="translate(25.07,0.00) scale(0.010254,-0.010254)"/></g>
<g transform="translate(15.0,434.7) rotate(-90)"><text x="0" y="0" font-size="21">S</text><text x="14" y="5.5" font-size="16.8">NN</text></g>
<text x="9.5" y="320.5" font-size="25" text-anchor="start" fill="#000" font-weight="bold">b</text>
<rect x="442.0" y="302.8" width="236.20000000000005" height="225.59999999999997" fill="none" stroke="#000" stroke-width="2.0"/>
<text x="428.6" y="535.4" font-size="21" text-anchor="end" fill="#000" >0</text>
<line x1="442.00" y1="461.93" x2="447.00" y2="461.93" stroke="#000" stroke-width="2" />
<line x1="678.20" y1="461.93" x2="673.20" y2="461.93" stroke="#000" stroke-width="2" />
<text id="o15" x="428.6" y="468.9" font-size="21" text-anchor="end" fill="#000" >0.001</text>
<g fill="#fff"><path d="M-40,-130L515,-130L515,230L-40,230ZM696,-130L1125,-130L1125,230L696,230Z" transform="translate(416.90,468.90) scale(0.010254,-0.010254)"/></g>
<line x1="442.00" y1="395.46" x2="447.00" y2="395.46" stroke="#000" stroke-width="2" />
<line x1="678.20" y1="395.46" x2="673.20" y2="395.46" stroke="#000" stroke-width="2" />
<text x="428.6" y="402.5" font-size="21" text-anchor="end" fill="#000" >0.002</text>
<line x1="442.00" y1="328.99" x2="447.00" y2="328.99" stroke="#000" stroke-width="2" />
<line x1="678.20" y1="328.99" x2="673.20" y2="328.99" stroke="#000" stroke-width="2" />
<text x="428.6" y="336.0" font-size="21" text-anchor="end" fill="#000" >0.003</text>
<text x="443.7" y="556.6" font-size="21" text-anchor="middle" fill="#000" >0</text>
<line x1="536.70" y1="528.40" x2="536.70" y2="523.40" stroke="#000" stroke-width="2" />
<line x1="536.70" y1="302.80" x2="536.70" y2="307.80" stroke="#000" stroke-width="2" />
<text id="o16" x="538.7" y="556.6" font-size="21" text-anchor="middle" fill="#000" >0.01</text>
<g fill="#fff"><path d="M-40,-130L515,-130L515,230L-40,230ZM696,-130L1125,-130L1125,230L696,230Z" transform="translate(547.45,556.60) scale(0.010254,-0.010254)"/></g>
<line x1="631.70" y1="528.40" x2="631.70" y2="523.40" stroke="#000" stroke-width="2" />
<line x1="631.70" y1="302.80" x2="631.70" y2="307.80" stroke="#000" stroke-width="2" />
<text x="633.7" y="556.6" font-size="21" text-anchor="middle" fill="#000" >0.02</text>
<polyline points="443.10,460.60 449.60,497.40 456.50,505.00 468.00,503.50 479.50,495.50 498.00,481.50 518.00,468.00 556.50,442.00 610.00,387.60 638.50,362.50 654.80,362.50" fill="none" stroke="#ee1111" stroke-width="3.4" stroke-linejoin="round" />
<path d="M438.40000000000003,460.6h9.4M443.1,455.90000000000003v9.4" stroke="#ee1111" stroke-width="3.3"/>
<path d="M444.90000000000003,497.4h9.4M449.6,492.7v9.4" stroke="#ee1111" stroke-width="3.3"/>
<path d="M451.8,505h9.4M456.5,500.3v9.4" stroke="#ee1111" stroke-width="3.3"/>
<path d="M463.3,503.5h9.4M468,498.8v9.4" stroke="#ee1111" stroke-width="3.3"/>
<path d="M474.8,495.5h9.4M479.5,490.8v9.4" stroke="#ee1111" stroke-width="3.3"/>
<path d="M493.3,481.5h9.4M498,476.8v9.4" stroke="#ee1111" stroke-width="3.3"/>
<path d="M513.3,468h9.4M518,463.3v9.4" stroke="#ee1111" stroke-width="3.3"/>
<path d="M551.8,442h9.4M556.5,437.3v9.4" stroke="#ee1111" stroke-width="3.3"/>
<path d="M605.3,387.6h9.4M610,382.90000000000003v9.4" stroke="#ee1111" stroke-width="3.3"/>
<path d="M633.8,362.5h9.4M638.5,357.8v9.4" stroke="#ee1111" stroke-width="3.3"/>
<path d="M650.0999999999999,362.5h9.4M654.8,357.8v9.4" stroke="#ee1111" stroke-width="3.3"/>
<polyline points="451.50,468.00 467.00,484.80 484.50,477.50 504.00,465.80 523.00,452.80 547.40,443.30 562.00,432.50 609.50,400.30 633.00,396.70 647.00,410.80" fill="none" stroke="#11aa11" stroke-width="3.4" stroke-linejoin="round" />
<path d="M447.0,463.5l9.0,9.0M447.0,472.5l9.0,-9.0" stroke="#11aa11" stroke-width="3.3"/>
<path d="M462.5,480.3l9.0,9.0M462.5,489.3l9.0,-9.0" stroke="#11aa11" stroke-width="3.3"/>
<path d="M480.0,473.0l9.0,9.0M480.0,482.0l9.0,-9.0" stroke="#11aa11" stroke-width="3.3"/>
<path d="M499.5,461.3l9.0,9.0M499.5,470.3l9.0,-9.0" stroke="#11aa11" stroke-width="3.3"/>
<path d="M518.5,448.3l9.0,9.0M518.5,457.3l9.0,-9.0" stroke="#11aa11" stroke-width="3.3"/>
<path d="M542.9,438.8l9.0,9.0M542.9,447.8l9.0,-9.0" stroke="#11aa11" stroke-width="3.3"/>
<path d="M557.5,428.0l9.0,9.0M557.5,437.0l9.0,-9.0" stroke="#11aa11" stroke-width="3.3"/>
<path d="M605.0,395.8l9.0,9.0M605.0,404.8l9.0,-9.0" stroke="#11aa11" stroke-width="3.3"/>
<path d="M628.5,392.2l9.0,9.0M628.5,401.2l9.0,-9.0" stroke="#11aa11" stroke-width="3.3"/>
<path d="M642.5,406.3l9.0,9.0M642.5,415.3l9.0,-9.0" stroke="#11aa11" stroke-width="3.3"/>
<polyline points="447.80,518.40 456.50,511.50 468.70,498.70 485.00,484.80 502.00,471.30 520.80,457.00 539.00,443.40 600.00,384.60 637.40,335.40 658.00,308.30" fill="none" stroke="#b000c8" stroke-width="3.4" stroke-linejoin="round" />
<path d="M442.2,518.4h11.2M447.8,512.8v11.2" stroke="#b000c8" stroke-width="3.2"/>
<path d="M443.40000000000003,514.0l8.8,8.8M443.40000000000003,522.8l8.8,-8.8" stroke="#b000c8" stroke-width="3.2"/>
<path d="M450.9,511.5h11.2M456.5,505.9v11.2" stroke="#b000c8" stroke-width="3.2"/>
<path d="M452.1,507.1l8.8,8.8M452.1,515.9l8.8,-8.8" stroke="#b000c8" stroke-width="3.2"/>
<path d="M463.09999999999997,498.7h11.2M468.7,493.09999999999997v11.2" stroke="#b000c8" stroke-width="3.2"/>
<path d="M464.3,494.3l8.8,8.8M464.3,503.09999999999997l8.8,-8.8" stroke="#b000c8" stroke-width="3.2"/>
<path d="M479.4,484.8h11.2M485,479.2v11.2" stroke="#b000c8" stroke-width="3.2"/>
<path d="M480.6,480.40000000000003l8.8,8.8M480.6,489.2l8.8,-8.8" stroke="#b000c8" stroke-width="3.2"/>
<path d="M496.4,471.3h11.2M502,465.7v11.2" stroke="#b000c8" stroke-width="3.2"/>
<path d="M497.6,466.90000000000003l8.8,8.8M497.6,475.7l8.8,-8.8" stroke="#b000c8" stroke-width="3.2"/>
<path d="M515.1999999999999,457h11.2M520.8,451.4v11.2" stroke="#b000c8" stroke-width="3.2"/>
<path d="M516.4,452.6l8.8,8.8M516.4,461.4l8.8,-8.8" stroke="#b000c8" stroke-width="3.2"/>
<path d="M533.4,443.4h11.2M539,437.79999999999995v11.2" stroke="#b000c8" stroke-width="3.2"/>
<path d="M534.6,439.0l8.8,8.8M534.6,447.79999999999995l8.8,-8.8" stroke="#b000c8" stroke-width="3.2"/>
<path d="M594.4,384.6h11.2M600,379.0v11.2" stroke="#b000c8" stroke-width="3.2"/>
<path d="M595.6,380.20000000000005l8.8,8.8M595.6,389.0l8.8,-8.8" stroke="#b000c8" stroke-width="3.2"/>
<path d="M631.8,335.4h11.2M637.4,329.79999999999995v11.2" stroke="#b000c8" stroke-width="3.2"/>
<path d="M633.0,331.0l8.8,8.8M633.0,339.79999999999995l8.8,-8.8" stroke="#b000c8" stroke-width="3.2"/>
<path d="M652.4,308.3h11.2M658,302.7v11.2" stroke="#b000c8" stroke-width="3.2"/>
<path d="M653.6,303.90000000000003l8.8,8.8M653.6,312.7l8.8,-8.8" stroke="#b000c8" stroke-width="3.2"/>
<text id="o17" x="453.1" y="329.6" font-size="21" text-anchor="start" fill="#000" >U=12</text>
<g fill="#fff"><path d="M-40,-130L515,-130L515,230L-40,230ZM696,-130L1125,-130L1125,230L696,230Z" transform="translate(480.52,329.60) scale(0.010254,-0.010254)"/></g>
<text id="o18" x="453.1" y="350.2" font-size="21" text-anchor="start" fill="#000" >U=10</text>
<g fill="#fff"><path d="M-40,-130L515,-130L515,230L-40,230ZM696,-130L1125,-130L1125,230L696,230Z" transform="translate(480.52,350.20) scale(0.010254,-0.010254)"/></g>
<text id="o19" x="453.1" y="370.7" font-size="21" text-anchor="start" fill="#000" >U=15</text>
<g fill="#fff"><path d="M-40,-130L515,-130L515,230L-40,230ZM696,-130L1125,-130L1125,230L696,230Z" transform="translate(480.52,370.70) scale(0.010254,-0.010254)"/></g>
<line x1="517.30" y1="323.10" x2="576.50" y2="323.10" stroke="#ee1111" stroke-width="3.3" />
<path d="M542.3,323.1h9.4M547,318.40000000000003v9.4" stroke="#ee1111" stroke-width="3.3"/>
<line x1="517.30" y1="344.30" x2="576.50" y2="344.30" stroke="#11aa11" stroke-width="3.3" />
<path d="M542.5,339.8l9.0,9.0M542.5,348.8l9.0,-9.0" stroke="#11aa11" stroke-width="3.3"/>
<line x1="517.30" y1="364.80" x2="576.50" y2="364.80" stroke="#b000c8" stroke-width="3.3" />
<path d="M541.4,364.8h11.2M547,359.2v11.2" stroke="#b000c8" stroke-width="3.2"/>
<path d="M542.6,360.40000000000003l8.8,8.8M542.6,369.2l8.8,-8.8" stroke="#b000c8" stroke-width="3.2"/>
<text x="548.3" y="586.7" font-size="21" text-anchor="start" fill="#000" >S</text>
<text x="562.8" y="577.1" font-size="16.8" text-anchor="start" fill="#000" >2</text>
<text x="562.5" y="593.8" font-size="16.8" text-anchor="start" fill="#000" >NN</text>
<g transform="translate(362.9,427.5) rotate(-90)"><text id="o20" x="0" y="0" font-size="21">1/</text><g fill="#fff"><path d="M-40,-130L515,-130L515,230L-40,230ZM696,-130L1125,-130L1125,230L696,230Z" transform="translate(0.00,0.00) scale(0.010254,-0.010254)"/></g></g>
<g transform="translate(353.4,406.6) scale(1.0)" fill="none" stroke="#000" stroke-linecap="round"><path d="M0,-2.9 L0,2.3 Q0.2,3.5 2.2,3.7" stroke-width="1.9"/><path d="M0.5,0 L7.2,0 Q9.2,0 9.1,-1.3 Q9.0,-2.5 7.0,-2.5" stroke-width="1.65"/></g>
<text x="356.3" y="320.8" font-size="26" text-anchor="start" fill="#000" font-weight="bold">c</text>
</svg>
</body></html>
